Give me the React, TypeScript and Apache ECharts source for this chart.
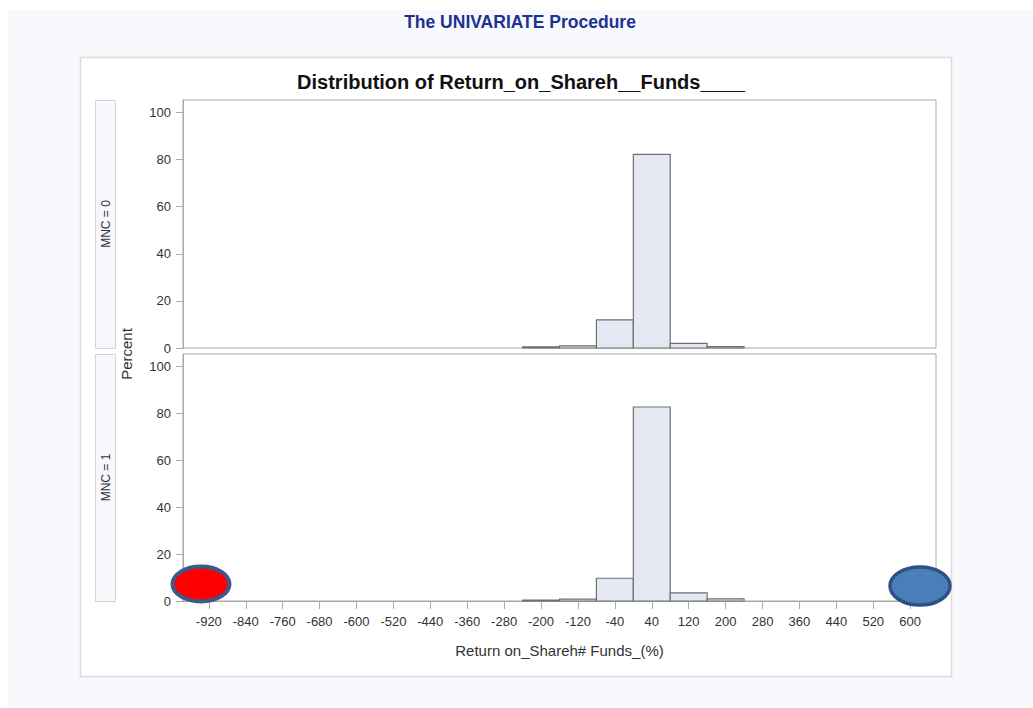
import React, { useEffect, useRef } from "react";
import * as echarts from "echarts";

const binStarts = [-240, -160, -80, 0, 80, 160];
const binWidth = 80;
const mnc0 = [0.5, 0.9, 11.9, 82.2, 2.0, 0.6];
const mnc1 = [0.4, 0.8, 9.7, 82.7, 3.5, 0.9];
const xTicks = [-920, -840, -760, -680, -600, -520, -440, -360, -280, -200, -120, -40, 40, 120, 200, 280, 360, 440, 520, 600];
const yTicks = [0, 20, 40, 60, 80, 100];
const panelLabels = ["MNC = 0", "MNC = 1"];

const FONT = "'Liberation Sans', Arial, sans-serif";

function histData(vals: number[]) {
  return binStarts.map((s, i) => [s, s + binWidth, vals[i]]);
}

const renderItem = (params: any, api: any) => {
  const x0 = api.value(0);
  const x1 = api.value(1);
  const y = api.value(2);
  const p0 = api.coord([x0, y]);
  const p1 = api.coord([x1, 0]);
  return {
    type: "rect",
    shape: { x: p0[0], y: p0[1], width: p1[0] - p0[0], height: p1[1] - p0[1] },
    style: { fill: "#e3e8f2", stroke: "#6f6f6f", lineWidth: 1.2 },
  };
};

export default function App() {
  const ref = useRef<HTMLDivElement>(null);
  useEffect(() => {
    if (!ref.current) return;
    const chart = echarts.init(ref.current, undefined, { renderer: "svg" });
    const gridLeft = 183;
    const gridWidth = 753;
    const grids = [
      { left: gridLeft, top: 100, width: gridWidth, height: 248 },
      { left: gridLeft, top: 354, width: gridWidth, height: 247 },
    ];
    const xMin = -976;
    const xMax = 656;
    const yMax = 105.3;
    const option: any = {
      animation: false,
      title: [
        {
          text: "The UNIVARIATE Procedure",
          left: 515,
          textAlign: "center",
          top: 8,
          textStyle: { fontFamily: FONT, fontSize: 17.5, fontWeight: "bold", color: "#1f3191" },
        },
        {
          text: "Distribution of Return_on_Shareh__Funds____",
          left: 516,
          textAlign: "center",
          top: 67,
          textStyle: { fontFamily: FONT, fontSize: 20, fontWeight: "bold", color: "#111" },
        },
      ],
      grid: grids.map((g) => ({
        ...g,
        show: true,
        borderColor: "#a9a9a9",
        borderWidth: 1,
        backgroundColor: "#ffffff",
        containLabel: false,
      })),
      xAxis: [0, 1].map((i) => ({
        type: "value",
        gridIndex: i,
        min: xMin,
        max: xMax,
        splitLine: { show: false },
        axisLine: { show: i === 1, onZero: false, lineStyle: { color: "#a9a9a9" } },
        axisTick: {
          show: i === 1,
          customValues: xTicks,
          length: 8,
          lineStyle: { color: "#a9a9a9" },
        },
        axisLabel: {
          show: i === 1,
          customValues: xTicks,
          fontFamily: FONT,
          fontSize: 13,
          color: "#333",
          margin: 14,
        },
        name: i === 1 ? "Return on_Shareh# Funds_(%)" : "",
        nameLocation: "middle",
        nameGap: 42,
        nameTextStyle: { fontFamily: FONT, fontSize: 15, color: "#333" },
      })),
      yAxis: [0, 1].map((i) => ({
        type: "value",
        gridIndex: i,
        min: 0,
        max: yMax,
        splitLine: { show: false },
        axisLine: { show: true, onZero: false, lineStyle: { color: "#a9a9a9" } },
        axisTick: { show: true, customValues: yTicks, length: 7, lineStyle: { color: "#a9a9a9" } },
        axisLabel: {
          customValues: yTicks,
          fontFamily: FONT,
          fontSize: 13,
          color: "#333",
          margin: 12,
        },
      })),
      series: [mnc0, mnc1].map((vals, i) => ({
        type: "custom",
        xAxisIndex: i,
        yAxisIndex: i,
        renderItem,
        encode: { x: [0, 1], y: 2 },
        data: histData(vals),
        z: 5,
      })),
      graphic: [
        {
          type: "rect",
          z: -20,
          shape: { x: 8, y: 10, width: 1025, height: 698 },
          style: { fill: "#f8f9fd" },
          silent: true,
        },
        {
          type: "rect",
          z: -19,
          shape: { x: 80.5, y: 57.5, width: 871, height: 619 },
          style: { fill: "#ffffff", stroke: "#dcdcdc", lineWidth: 1.5 },
          silent: true,
        },
        ...grids.flatMap((g, i) => [
          {
            type: "rect",
            z: 1,
            shape: { x: 95.5, y: g.top + 0.5, width: 20, height: g.height },
            style: { fill: "#f7f8fc", stroke: "#d4d4d4", lineWidth: 1 },
          },
          {
            type: "text",
            z: 2,
            x: 106,
            y: g.top + g.height / 2,
            rotation: Math.PI / 2,
            style: {
              text: panelLabels[i],
              fontFamily: FONT,
              fontSize: 12,
              fill: "#333",
              align: "center",
              verticalAlign: "middle",
            },
          },
        ]),
        {
          type: "text",
          z: 2,
          x: 126,
          y: 354,
          rotation: Math.PI / 2,
          style: {
            text: "Percent",
            fontFamily: FONT,
            fontSize: 15,
            fill: "#333",
            align: "center",
            verticalAlign: "middle",
          },
        },
        {
          type: "ellipse",
          z: 20,
          shape: { cx: 201, cy: 584, rx: 28.5, ry: 17.5 },
          style: { fill: "#ff0000", stroke: "#3a5a8a", lineWidth: 4 },
        },
        {
          type: "ellipse",
          z: 20,
          shape: { cx: 920, cy: 586, rx: 30, ry: 19 },
          style: { fill: "#4a7ebb", stroke: "#2f5185", lineWidth: 3.5 },
        },
      ],
    };
    chart.setOption(option);
    return () => chart.dispose();
  }, []);
  return (
    <div
      ref={ref}
      style={{ position: "fixed", left: 0, top: 0, width: 1033, height: 708, background: "#ffffff" }}
    />
  );
}
